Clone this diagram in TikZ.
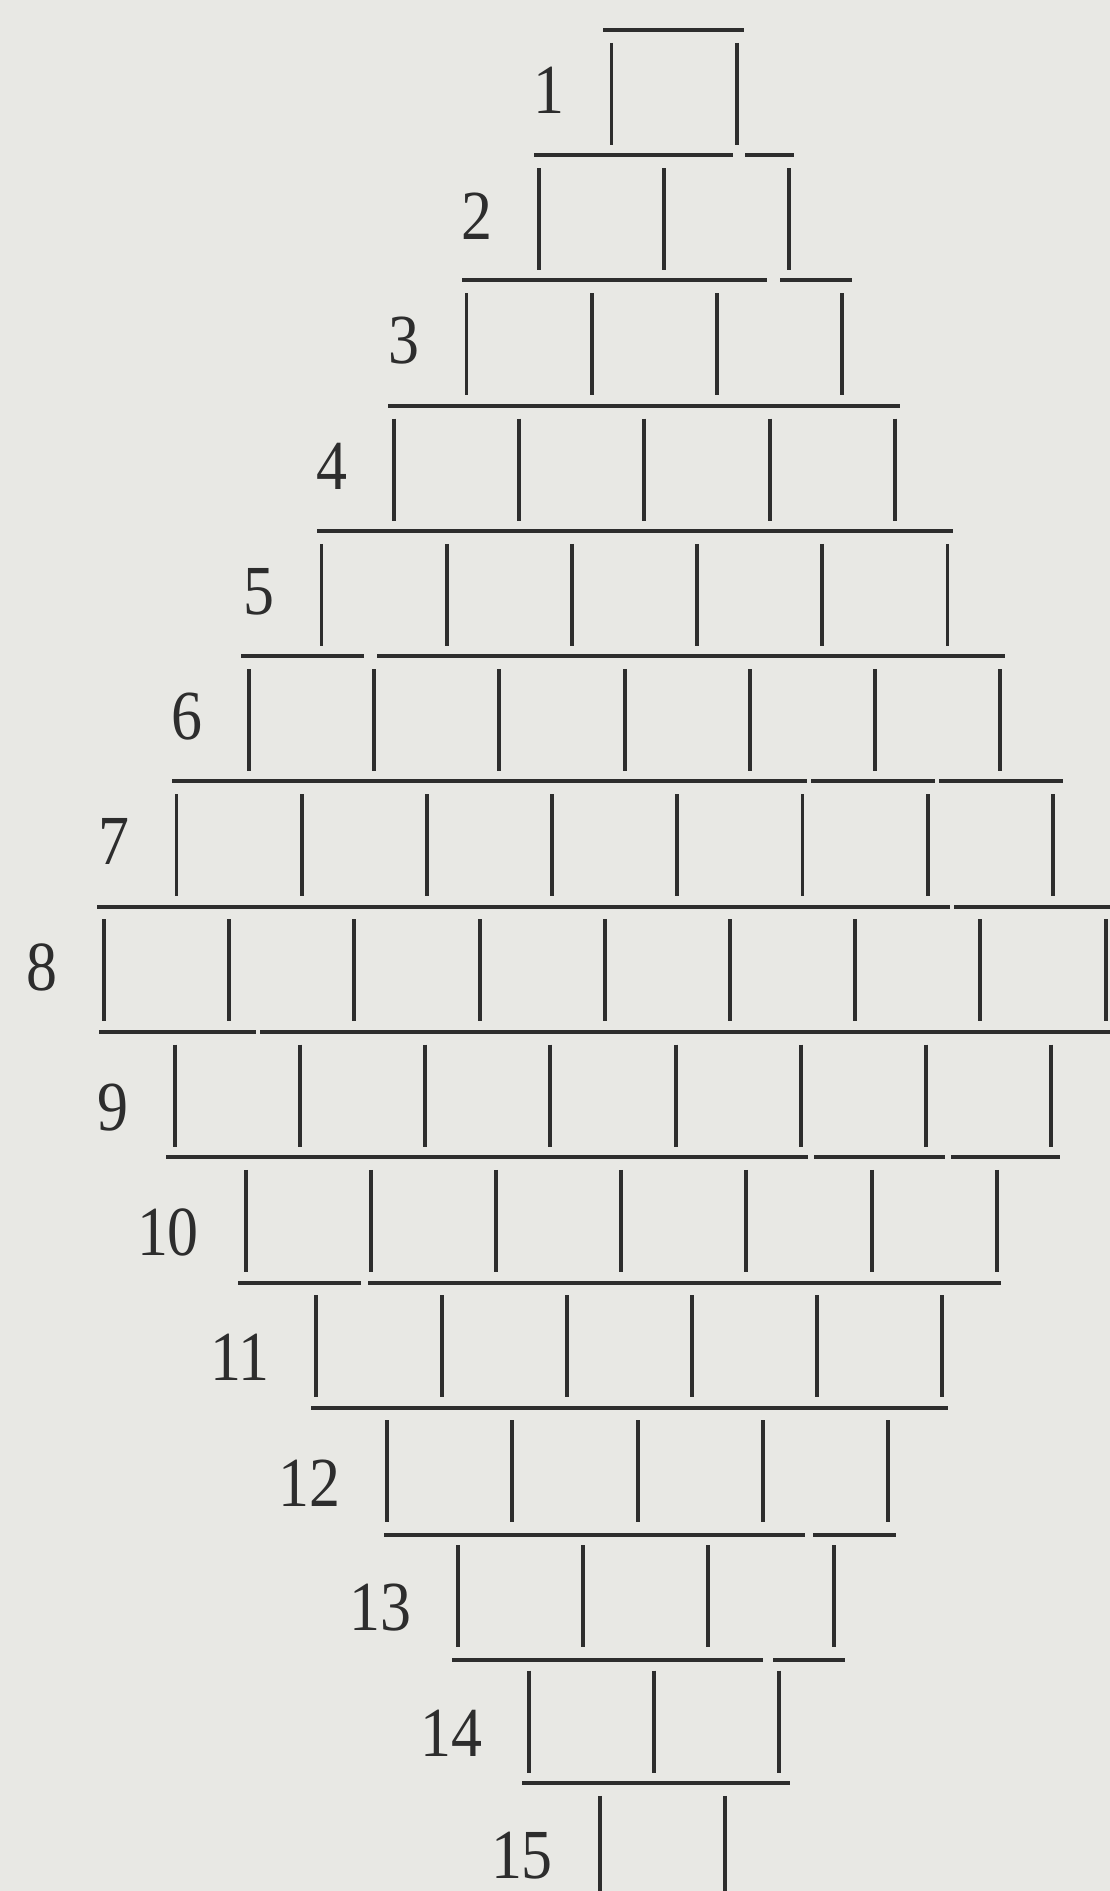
\documentclass[tikz,border=0pt]{standalone}
\usepackage{graphicx}
\usepackage{fontspec}
\setmainfont{Liberation Serif}
\definecolor{paper}{RGB}{232,232,228}
\definecolor{ink}{RGB}{45,45,45}
\tikzset{
  rule/.style={ink, line width=1.1pt},
  rownum/.style={anchor=east, inner sep=0pt, text=ink, font=\fontsize{20}{20}\selectfont},
}
\begin{document}
\begin{tikzpicture}[x=0.01cm, y=-0.01cm]
  \fill[paper] (0,0) rectangle (1110,1891);
  \useasboundingbox (0,0) rectangle (1110,1891);
  \clip (0,0) rectangle (1110,1891);
  % horizontal rules between the rows
  \foreach \y/\a/\b in {30/603/744, 155/534/733, 155/745/794,
      280/462/767, 280/780/852, 406/388/900, 531/317/953,
      656/241/364, 656/377/1005, 781/172/807, 781/811/935, 781/939/1063,
      907/97/950, 907/954/1112, 1032/99/256, 1032/260/1112,
      1157/166/808, 1157/814/945, 1157/951/1060, 1283/238/361, 1283/368/1001,
      1408/311/948, 1535/384/805, 1535/813/896, 1660/452/763, 1660/773/845,
      1783/522/790}
    \draw[rule] (\a,\y) -- (\b,\y);
  % rows of cells with their numbers
  \foreach \r in {1,...,15}{
    \pgfmathtruncatemacro\d{abs(\r-8)}
    \pgfmathtruncatemacro\n{8-\d}
    \pgfmathsetmacro\L{ifthenelse(\r<9, 104+72.5*\d, 104+70.8*\d)}
    \pgfmathsetmacro\T{30+125.2*(\r-1)}
    \pgfmathsetmacro\off{ifthenelse(\r<9, -2, ifthenelse(\r<15, 13, 10))}
    \foreach \j in {0,...,\n}
      \draw[rule] ({\L+125.2*\j},{\T+13}) -- ({\L+125.2*\j},{\T+115});
    \node[rownum] (n\r) at ({\L-46},{\T+62.6+\off}) {\scalebox{.88}[1]{\r}};
  }
\end{tikzpicture}
\end{document}
